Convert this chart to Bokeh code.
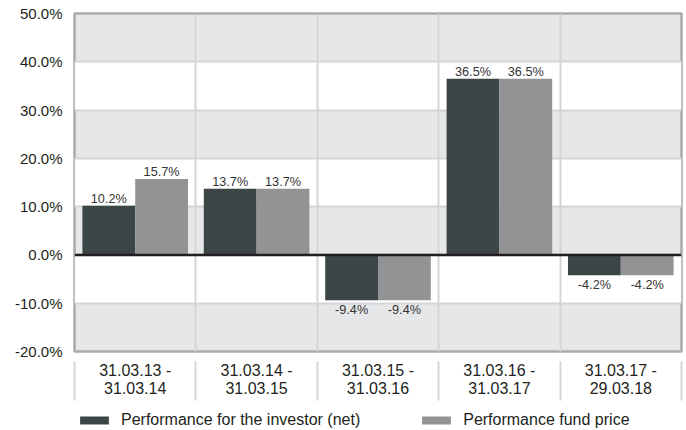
import numpy as np
from bokeh.plotting import figure
from bokeh.layouts import column
from bokeh.models import (ColumnDataSource, FixedTicker, Range1d, Span, Legend,
                          LegendItem, PrintfTickFormatter)
from bokeh.transform import dodge
from bokeh.core.properties import value
from bokeh.embed import file_html
from bokeh.resources import INLINE

# ---- data ----
periods = ["31.03.13 -\n31.03.14", "31.03.14 -\n31.03.15", "31.03.15 -\n31.03.16",
           "31.03.16 -\n31.03.17", "31.03.17 -\n29.03.18"]
investor_net = [10.2, 13.7, -9.4, 36.5, -4.2]
fund_price = [15.7, 13.7, -9.4, 36.5, -4.2]
y_ticks = [-20, -10, 0, 10, 20, 30, 40, 50]
series_names = ["Performance for the investor (net)", "Performance fund price"]

# ---- style ----
FONT = "Liberation Sans"
DARK = "#3d4646"
LIGHT = "#929395"
BAND = "#e6e7e9"
GRID = "#d4d5d7"
TEXT = "#231f20"

n = len(periods)
centers = (np.arange(n) + 0.5).tolist()
bounds = np.arange(n + 1).tolist()


def lbl(v):
    return f"{v:.1f}%"


def off(v):
    return -7 if v >= 0 else 10


src = ColumnDataSource(dict(
    x=centers, net=investor_net, fund=fund_price,
    net_lbl=[lbl(v) for v in investor_net], fund_lbl=[lbl(v) for v in fund_price],
    net_off=[off(v) for v in investor_net], fund_off=[off(v) for v in fund_price],
))

p = figure(width=686, height=406, output_backend="svg", toolbar_location=None,
           x_range=Range1d(0, n), y_range=Range1d(y_ticks[0], y_ticks[-1]),
           min_border_left=74, min_border_right=5, min_border_top=13,
           min_border_bottom=55)

p.background_fill_color = BAND
p.border_fill_color = "white"
p.outline_line_color = "#a9aaac"
p.outline_line_width = 2.5

# y axis
p.yaxis.ticker = FixedTicker(ticks=y_ticks)
p.yaxis.formatter = PrintfTickFormatter(format="%.1f%%")
p.yaxis.axis_line_color = None
p.yaxis.major_tick_line_color = None
p.yaxis.minor_tick_line_color = None
p.yaxis.major_label_standoff = 6
p.yaxis.major_label_text_font = FONT
p.yaxis.major_label_text_font_size = "15px"
p.yaxis.major_label_text_color = TEXT

# x axis
p.xaxis.ticker = FixedTicker(ticks=centers, minor_ticks=bounds)
p.xaxis.major_label_overrides = {c: t for c, t in zip(centers, periods)}
p.xaxis.axis_line_color = None
p.xaxis.major_tick_line_color = None
p.xaxis.major_tick_in = 0
p.xaxis.major_tick_out = 0
p.xaxis.minor_tick_line_color = GRID
p.xaxis.minor_tick_line_width = 2
p.xaxis.minor_tick_in = -10
p.xaxis.minor_tick_out = 49
p.xaxis.major_label_standoff = -39
p.xaxis.major_label_text_font = FONT
p.xaxis.major_label_text_font_size = "16px"
p.xaxis.major_label_text_color = TEXT
p.xaxis.major_label_text_line_height = 1.06

# grids
p.ygrid.grid_line_color = GRID
p.ygrid.grid_line_width = 2
p.ygrid.band_fill_color = "white"
p.ygrid.band_fill_alpha = 1
p.xgrid.grid_line_color = None
p.xgrid.minor_grid_line_color = GRID
p.xgrid.minor_grid_line_width = 2
# draw y bands first, vertical lines on top
p.center = [p.ygrid[0], p.xgrid[0]] + [c for c in p.center if c not in (p.ygrid[0], p.xgrid[0])]

W = 0.435
D = W / 2
r1 = p.vbar(x=dodge("x", -D), top="net", width=W, source=src,
            fill_color=DARK, line_color=None)
r2 = p.vbar(x=dodge("x", D), top="fund", width=W, source=src,
            fill_color=LIGHT, line_color=None)

p.text(x=dodge("x", -D), y="net", text="net_lbl", y_offset="net_off", source=src,
       text_align="center", text_baseline="alphabetic", text_font=value(FONT),
       text_font_size="12.7px", text_color="#333333")
p.text(x=dodge("x", D), y="fund", text="fund_lbl", y_offset="fund_off", source=src,
       text_align="center", text_baseline="alphabetic", text_font=value(FONT),
       text_font_size="12.7px", text_color="#333333")

p.add_layout(Span(location=0, dimension="width", line_color=TEXT, line_width=2.5))

# ---- legend strip (separate small figure below the chart; frames are aligned) ----
pl = figure(width=686, height=24, output_backend="svg", toolbar_location=None,
            x_axis_type=None, y_axis_type=None, min_border=0,
            x_range=Range1d(0, 1), y_range=Range1d(0, 1))
pl.outline_line_color = None
pl.background_fill_color = "white"
pl.border_fill_color = "white"
pl.grid.visible = False
# legend-only proxies, placed outside the visible range
g1 = pl.vbar(x=[-5], top=[0], width=0.1, fill_color=DARK, line_color=None)
g2 = pl.vbar(x=[-5], top=[0], width=0.1, fill_color=LIGHT, line_color=None)
leg = Legend(items=[LegendItem(label=series_names[0], renderers=[g1]),
                    LegendItem(label=series_names[1], renderers=[g2])],
             location=(2, 1), orientation="horizontal", glyph_width=36, glyph_height=10,
             label_standoff=9, padding=0, margin=0, spacing=58,
             border_line_color=None, background_fill_alpha=0,
             label_text_font=FONT, label_text_font_size="16px",
             label_text_color=TEXT)
pl.add_layout(leg)

layout = column(p, pl, spacing=0)
open("out.html", "w").write(file_html(layout, INLINE))
